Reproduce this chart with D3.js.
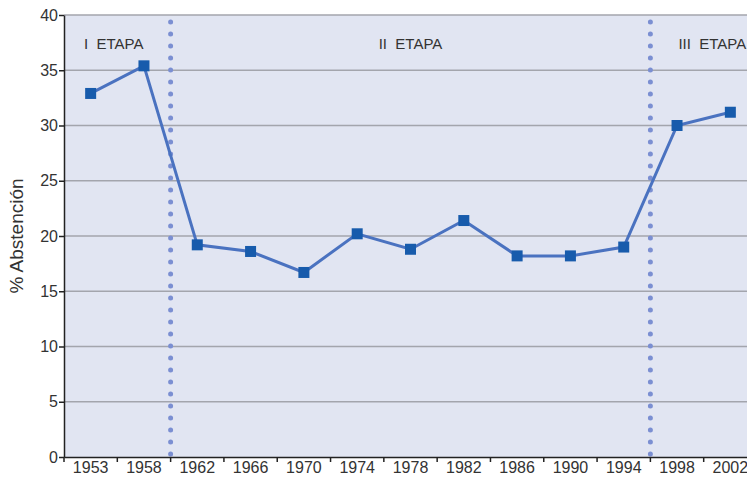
<!DOCTYPE html>
<html>
<head>
<meta charset="utf-8">
<script src="https://cdn.jsdelivr.net/npm/d3@7"></script>
<style>
body { margin: 0; background: #fff; }
text { font-family: "Liberation Sans", "DejaVu Sans", sans-serif; fill: #333; }
</style>
</head>
<body>
<script>
// data
var years = ["1953", "1958", "1962", "1966", "1970", "1974", "1978", "1982", "1986", "1990", "1994", "1998", "2002"];
var abstention = [32.9, 35.4, 19.2, 18.6, 16.7, 20.2, 18.8, 21.4, 18.2, 18.2, 19.0, 30.0, 31.2];
var yTicks = [0, 5, 10, 15, 20, 25, 30, 35, 40];
var stageLabels = ["I  ETAPA", "II  ETAPA", "III  ETAPA"];
// boundaries between stages (drawn between these year pairs)
var stageBreaks = [["1958", "1962"], ["1994", "1998"]];

var width = 747, height = 480;
var margin = {top: 15, left: 64, bottom: 23};
var plotRight = 757;

var svg = d3.select("body").append("svg")
    .attr("width", width)
    .attr("height", height);

var x = d3.scaleBand()
    .domain(years)
    .range([margin.left, plotRight]);

var y = d3.scaleLinear()
    .domain([0, 40])
    .range([height - margin.bottom, margin.top]);

// plot background
svg.append("rect")
    .attr("x", margin.left)
    .attr("y", y(40))
    .attr("width", plotRight - margin.left)
    .attr("height", y(0) - y(40))
    .style("fill", "#e1e5f2");

// gridlines
svg.append("g")
  .selectAll("line")
  .data(yTicks.filter(function(d) { return d > 0; }))
  .enter().append("line")
    .attr("x1", margin.left)
    .attr("x2", plotRight)
    .attr("y1", function(d) { return y(d); })
    .attr("y2", function(d) { return y(d); })
    .style("stroke", "#a3a5ad")
    .style("stroke-width", 1.5);

// dotted stage separators
svg.append("g")
  .selectAll("line")
  .data(stageBreaks)
  .enter().append("line")
    .attr("x1", function(d) { return x(d[1]); })
    .attr("x2", function(d) { return x(d[1]); })
    .attr("y1", y(0) - 3)
    .attr("y2", y(40))
    .style("stroke", "#7b8fd2")
    .style("stroke-width", 5)
    .style("stroke-linecap", "round")
    .style("stroke-dasharray", "0 12");

// stage labels
var stageX = [
  x(years[0]) + 20,
  (x(stageBreaks[0][1]) + x(stageBreaks[1][1])) / 2,
  x(stageBreaks[1][1]) + 28
];
svg.append("g")
  .selectAll("text")
  .data(stageLabels)
  .enter().append("text")
    .attr("x", function(d, i) { return stageX[i]; })
    .attr("y", 49)
    .attr("text-anchor", function(d, i) { return i == 1 ? "middle" : "start"; })
    .style("font-size", "15px")
    .style("white-space", "pre")
    .attr("xml:space", "preserve")
    .text(function(d) { return d; });

// axes
var yAxis = d3.axisLeft(y).tickValues(yTicks).tickSize(5).tickSizeOuter(0);
var gy = svg.append("g")
    .attr("transform", "translate(" + margin.left + ",0)")
    .call(yAxis);
gy.select(".domain").style("stroke", "#222").style("stroke-width", 1.5);
gy.selectAll(".tick line").style("stroke", "#222").style("stroke-width", 1.5);
gy.selectAll("text")
    .attr("x", -6)
    .style("font-size", "16px")
    .style("font-family", "Liberation Sans, sans-serif")
    .style("fill", "#333");

var xAxis = d3.axisBottom(x).tickSize(0);
var gx = svg.append("g")
    .attr("transform", "translate(0," + y(0) + ")")
    .call(xAxis);
gx.select(".domain").style("stroke", "#222").style("stroke-width", 1.5);
gx.selectAll("text")
    .attr("y", 5)
    .style("font-size", "16px")
    .style("font-family", "Liberation Sans, sans-serif")
    .style("fill", "#333");

// band boundary ticks
gx.append("g")
  .selectAll("line")
  .data(years)
  .enter().append("line")
    .attr("x1", function(d) { return x(d); })
    .attr("x2", function(d) { return x(d); })
    .attr("y1", 0)
    .attr("y2", 5)
    .style("stroke", "#222")
    .style("stroke-width", 1.5);

// y label
svg.append("text")
    .attr("transform", "translate(23," + ((y(0) + y(40)) / 2) + ") rotate(-90)")
    .attr("text-anchor", "middle")
    .style("font-size", "19px")
    .text("% Abstención");

// series line
var line = d3.line()
    .x(function(d, i) { return x(years[i]) + x.bandwidth() / 2; })
    .y(function(d) { return y(d); });

svg.append("path")
    .datum(abstention)
    .attr("d", line)
    .style("fill", "none")
    .style("stroke", "#4a72c0")
    .style("stroke-width", 3);

// markers
var m = 11;
svg.append("g")
  .selectAll("rect")
  .data(abstention)
  .enter().append("rect")
    .attr("x", function(d, i) { return x(years[i]) + x.bandwidth() / 2 - m / 2; })
    .attr("y", function(d) { return y(d) - m / 2; })
    .attr("width", m)
    .attr("height", m)
    .style("fill", "#175bac");
</script>
</body>
</html>
